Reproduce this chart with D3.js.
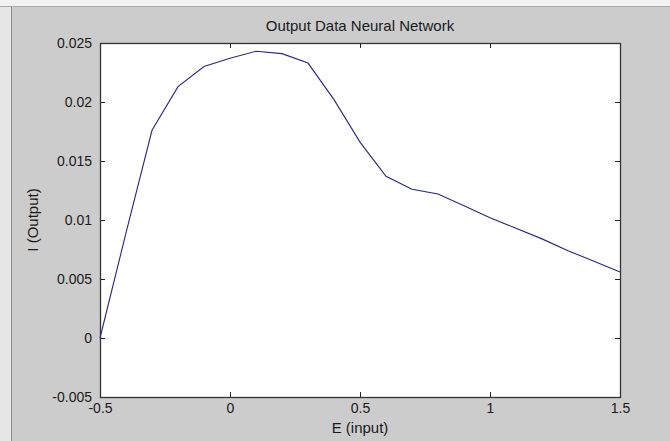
<!DOCTYPE html>
<html>
<head>
<meta charset="utf-8">
<script src="https://cdn.jsdelivr.net/npm/d3@7"></script>
<style>
  html, body { margin: 0; padding: 0; background: #cccccc; }
  svg { display: block; font-family: "Liberation Sans", Arial, sans-serif; }
</style>
</head>
<body>
<svg id="chart" width="670" height="441"></svg>
<script>
// Data
const inputE = [-0.5, -0.4, -0.3, -0.2, -0.1, 0.0, 0.1, 0.2, 0.3, 0.4, 0.5, 0.6, 0.7, 0.8, 0.9, 1.0, 1.1, 1.2, 1.3, 1.4, 1.5];
const outputI = [0.0, 0.0089, 0.0176, 0.0213, 0.0230, 0.0237, 0.0243, 0.0241, 0.0233, 0.0202, 0.0166, 0.0137, 0.0126, 0.0122, 0.0112, 0.0102, 0.0093, 0.0084, 0.0074, 0.0065, 0.0056];
const xTicks = [-0.5, 0, 0.5, 1, 1.5];
const yTicks = [-0.005, 0, 0.005, 0.01, 0.015, 0.02, 0.025];
const titleText = "Output Data Neural Network";
const xLabelText = "E (input)";
const yLabelText = "I (Output)";

const W = 670, H = 441;
const plot = { left: 100, top: 43, right: 620, bottom: 397 };

const svg = d3.select("#chart");

// window chrome
svg.append("rect").attr("x", 0).attr("y", 0).attr("width", W).attr("height", H).attr("fill", "#cccccc");
svg.append("rect").attr("x", 0).attr("y", 0).attr("width", W).attr("height", 6).attr("fill", "#f2f2f2");
svg.append("line").attr("x1", 0).attr("x2", W).attr("y1", 6.5).attr("y2", 6.5).attr("stroke", "#a8a8a8");
svg.append("rect").attr("x", 0).attr("y", 7).attr("width", 11).attr("height", H - 7).attr("fill", "#e6e6e6");
svg.append("line").attr("x1", 11.5).attr("x2", 11.5).attr("y1", 7).attr("y2", H).attr("stroke", "#8c8c8c");

const x = d3.scaleLinear().domain([-0.5, 1.5]).range([plot.left, plot.right]);
const y = d3.scaleLinear().domain([-0.005, 0.025]).range([plot.bottom, plot.top]);

// plot area
svg.append("rect")
  .attr("x", plot.left).attr("y", plot.top)
  .attr("width", plot.right - plot.left).attr("height", plot.bottom - plot.top)
  .attr("fill", "#ffffff");

const fmtX = d => (d === 0 ? "0" : String(d));
const fmtY = d => (d === 0 ? "0" : String(+d.toFixed(3)));

function styleAxis(g) {
  g.select(".domain").remove();
  g.selectAll(".tick line").attr("stroke", "#222").attr("stroke-width", 1);
  g.selectAll(".tick text").attr("fill", "#1a1a1a").attr("font-size", 14)
    .attr("font-family", "Liberation Sans, Arial, sans-serif");
}

// bottom axis (ticks inward)
const gB = svg.append("g").attr("transform", `translate(0,${plot.bottom})`)
  .call(d3.axisBottom(x).tickValues(xTicks).tickFormat(fmtX).tickSizeInner(-5).tickSizeOuter(0).tickPadding(6));
styleAxis(gB);
gB.selectAll(".tick text").attr("dy", "0.71em");
// top axis ticks
const gT = svg.append("g").attr("transform", `translate(0,${plot.top})`)
  .call(d3.axisTop(x).tickValues(xTicks).tickFormat("").tickSizeInner(-5).tickSizeOuter(0));
styleAxis(gT);
// left axis
const gL = svg.append("g").attr("transform", `translate(${plot.left},0)`)
  .call(d3.axisLeft(y).tickValues(yTicks).tickFormat(fmtY).tickSizeInner(-5).tickSizeOuter(0).tickPadding(8));
styleAxis(gL);
// right axis ticks
const gR = svg.append("g").attr("transform", `translate(${plot.right},0)`)
  .call(d3.axisRight(y).tickValues(yTicks).tickFormat("").tickSizeInner(-5).tickSizeOuter(0));
styleAxis(gR);

// remove end ticks coinciding with the box edges
[gB, gT].forEach(g => g.selectAll(".tick").filter(d => d === -0.5 || d === 1.5).select("line").remove());
[gL, gR].forEach(g => g.selectAll(".tick").filter(d => d === -0.005 || d === 0.025).select("line").remove());

// box
svg.append("rect")
  .attr("x", plot.left + 0.5).attr("y", plot.top + 0.5)
  .attr("width", plot.right - plot.left).attr("height", plot.bottom - plot.top)
  .attr("fill", "none").attr("stroke", "#333").attr("stroke-width", 1.3);

// line
const data = inputE.map((e, i) => ({ e, v: outputI[i] }));
svg.append("path")
  .datum(data)
  .attr("fill", "none")
  .attr("stroke", "#262688")
  .attr("stroke-width", 1.1)
  .attr("d", d3.line().x(d => x(d.e)).y(d => y(d.v)));

// title and labels
svg.append("text").attr("x", (plot.left + plot.right) / 2).attr("y", 31)
  .attr("text-anchor", "middle").attr("font-size", 15).attr("fill", "#1a1a1a").text(titleText);
svg.append("text").attr("x", (plot.left + plot.right) / 2).attr("y", 433)
  .attr("text-anchor", "middle").attr("font-size", 15).attr("fill", "#1a1a1a").text(xLabelText);
svg.append("text").attr("transform", `translate(38,${(plot.top + plot.bottom) / 2}) rotate(-90)`)
  .attr("text-anchor", "middle").attr("font-size", 15).attr("fill", "#1a1a1a").text(yLabelText);
</script>
</body>
</html>
